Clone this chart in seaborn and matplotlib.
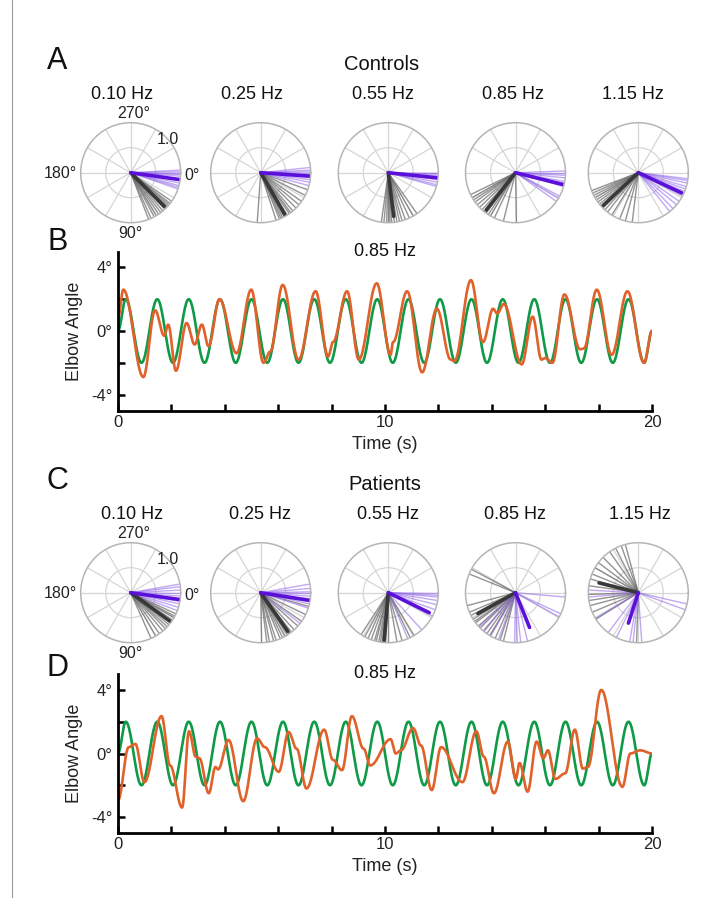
import numpy as np
import pandas as pd
import matplotlib
matplotlib.use("Agg")
import matplotlib.pyplot as plt
import seaborn as sns
from matplotlib.lines import Line2D

sns.set_theme(style="white")
plt.rcParams['font.family'] = ['Liberation Sans', 'DejaVu Sans']

# ------------------------------------------------------------------ data
freq_labels = ["0.10 Hz", "0.25 Hz", "0.55 Hz", "0.85 Hz", "1.15 Hz"]

# Controls - phase angle (deg, clockwise from 0 deg at right) of each line
ctrl_gray_deg = [
    [35, 38, 40, 42, 44, 47, 50, 53, 56, 59, 62, 66, 69],
    [20, 27, 35, 40, 45, 50, 53, 55, 58, 60, 62, 64, 66, 68, 72, 94],
    [55, 60, 65, 70, 74, 77, 80, 83, 86, 88, 90, 92, 95, 98],
    [89, 104, 115, 120, 123, 126, 129, 132, 136, 140, 144, 147, 150, 154],
    [97, 105, 112, 122, 128, 132, 135, 138, 141, 144, 147, 150, 153, 156, 159],
]
ctrl_purple_deg = [
    [-3, -1, 0, 2, 4, 9, 12, 15, 17, 19],
    [-6, -3, -1, 1, 3, 5, 8, 11, 15],
    [0, 1, 3, 5, 8, 11, 14, 16],
    [-2, 0, 3, 6, 10, 12, 16, 28, 31, 35],
    [7, 9, 12, 16, 19, 22, 28, 35, 40, 46, 51],
]
ctrl_gray_len = [0.99, 0.99, 0.99, 0.99, 0.99]
ctrl_purple_len = [0.99, 0.99, 0.99, 0.99, 0.99]
ctrl_gray_mean_deg = [45, 60, 83, 128, 137]
ctrl_gray_mean_r = [0.95, 0.96, 0.88, 0.95, 0.97]
ctrl_purple_mean_deg = [8, 4, 6, 14, 25]
ctrl_purple_mean_r = [0.98, 1.0, 1.0, 0.99, 0.96]

# Patients
pat_gray_deg = [
    [25, 28, 30, 33, 35, 37, 40, 43, 46, 50, 55, 60, 66],
    [16, 26, 35, 42, 48, 52, 55, 58, 61, 64, 67, 72, 75, 80, 83, 89],
    [59, 64, 74, 80, 90, 93, 95, 97, 99, 101, 104, 106, 110, 114, 118, 123],
    [104, 108, 114, 121, 125, 130, 135, 138, 143, 145, 148, 153, 157, 165, 202, 208],
    [92, 148, 157, 165, 171, 178, 188, 196, 202, 210, 217, 225, 235, 243, 250, 255],
]
pat_purple_deg = [
    [-10, -7, -3, 1, 4, 7, 10, 13, 17, 21],
    [-10, -5, -1, 1, 4, 7, 13, 18, 38],
    [1, 3, 5, 9, 14, 20, 28, 48, 67],
    [5, 25, 29, 76, 84, 88, 91, 110, 120, 129, 137],
    [13, 20, 86, 96, 100, 116, 127, 149, 175, 183],
]
pat_gray_len = [0.99, 0.99, 0.99, 0.99, 0.99]
pat_purple_len = [0.99, 0.99, 0.99, 0.99, 0.99]
pat_gray_mean_deg = [36, 55, 95, 151, 194]
pat_gray_mean_r = [0.97, 0.95, 0.96, 0.86, 0.81]
pat_purple_mean_deg = [8, 9, 26, 68, 108]
pat_purple_mean_r = [0.99, 1.0, 0.91, 0.75, 0.64]

# Target (green) elbow-angle key points: start, successive peaks/troughs, end
target_t = [0.0, 0.29, 0.88, 1.47, 2.06, 2.65, 3.24, 3.82, 4.41, 5.00, 5.59,
            6.18, 6.76, 7.35, 7.94, 8.53, 9.12, 9.71, 10.29, 10.88, 11.47,
            12.06, 12.65, 13.24, 13.82, 14.41, 15.00, 15.59, 16.18, 16.76,
            17.35, 17.94, 18.53, 19.12, 19.71, 20.0]
target_v = [0.0, 2.0, -2.0, 2.0, -2.0, 2.0, -2.0, 2.0, -2.0, 2.0, -2.0,
            2.0, -2.0, 2.0, -2.0, 2.0, -2.0, 2.0, -2.0, 2.0, -2.0,
            2.0, -2.0, 2.0, -2.0, 2.0, -2.0, 2.0, -2.0, 2.0,
            -2.0, 2.0, -2.0, 2.0, -2.0, 0.0]

# Control subject response (orange) key points
ctrl_resp_t = [0.0, 0.20, 0.95, 1.39, 1.73, 1.88, 2.17, 2.57, 2.87, 3.14,
               3.39, 3.80, 4.44, 4.99, 5.45, 5.70, 6.17, 6.76, 7.40, 7.87,
               8.05, 8.58, 9.02, 9.69, 10.21, 10.30, 10.83, 11.39, 11.94, 12.46,
               12.60, 13.22, 13.67, 14.05, 14.20, 14.45, 15.12, 15.53, 15.86, 16.00,
               16.27, 16.72, 17.31, 17.45, 17.93, 18.49, 19.08, 19.70, 20.0]
ctrl_resp_v = [0.8, 2.6, -2.9, 1.3, -0.3, 0.4, -2.5, 0.5, -0.85, 0.4,
               -0.95, 2.0, -1.4, 2.6, -2.0, -1.3, 2.9, -1.8, 2.5, -1.6,
               -0.7, 2.5, -1.8, 3.0, -1.5, -0.7, 2.5, -2.6, 1.4, -1.8,
               -1.9, 3.2, -0.7, 1.4, 1.1, 1.7, -2.1, 0.9, -1.8, -1.7,
               -2.0, 2.3, -1.15, -1.1, 2.6, -1.5, 2.5, -2.0, 0.0]

# Patient response (orange) key points
pat_resp_t = [0.0, 0.40, 0.65, 0.99, 1.63, 1.95, 2.40, 2.66, 2.91, 3.05,
              3.40, 3.65, 3.75, 4.14, 4.69, 5.21, 5.50, 6.02, 6.39, 6.69,
              7.06, 7.72, 8.05, 8.39, 8.76, 9.20, 9.45, 10.21, 10.40, 10.60,
              11.05, 11.35, 11.75, 12.10, 12.90, 13.42, 13.70, 14.08, 14.60, 14.90,
              15.04, 15.34, 15.68, 15.93, 16.10, 16.38, 16.75, 17.11, 17.41, 17.60,
              18.10, 18.89, 19.19, 19.56, 20.0]
pat_resp_v = [-2.95, 0.4, 0.6, -1.8, 2.35, -0.75, -3.4, 1.4, -0.2, -0.3,
              -2.5, -0.85, -1.0, 0.85, -3.0, 0.95, 0.4, -1.15, 1.35, 0.3,
              -2.2, 1.5, -0.4, -1.05, 2.35, 0.3, -0.75, 0.9, 0.0, 0.2,
              1.6, 0.5, -2.3, 0.4, -1.8, 1.4, -0.2, -2.5, 0.75, -1.6,
              -0.6, -2.4, 0.75, -0.3, 0.2, -1.6, -1.25, 1.5, -0.95, -0.85,
              4.0, -2.1, 0.0, 0.2, 0.0]

y_ticks = [-4, -2, 0, 2, 4]
y_ticklabels = ["-4°", "", "0°", "", "4°"]
x_ticks = [0, 2, 4, 6, 8, 10, 12, 14, 16, 18, 20]
x_ticklabels = ["0", "", "", "", "", "10", "", "", "", "", "20"]

# ------------------------------------------------------------------ style
W, H = 708, 898
GREEN = "#0f9a48"
ORANGE = "#e0612a"
PURPLE = "#5a10d8"
PURPLE_LIGHT = "#8f62e8"
GRAY = "#666666"
DARK = "#383838"
GRID = "#d6d6d6"
RING = "#b5b5b5"

fig = plt.figure(figsize=(W / 100, H / 100), dpi=100)
fig.patch.set_facecolor("white")


def fx(x):
    return x / W


def fy(y):
    return 1 - y / H


def smooth_path(ts, vs, n=24):
    """Draw a smooth path through key points (half-cosine between points)."""
    t_out, v_out = [], []
    for i in range(len(ts) - 1):
        s = np.linspace(0, 1, n, endpoint=False)
        w = (1 - np.cos(np.pi * s)) / 2
        t_out.append(ts[i] + (ts[i + 1] - ts[i]) * s)
        v_out.append(vs[i] + (vs[i + 1] - vs[i]) * w)
    t_out.append([ts[-1]])
    v_out.append([vs[-1]])
    return np.concatenate(t_out), np.concatenate(v_out)


fig.add_artist(Line2D([fx(12), fx(12)], [0, 1], color="#9a9a9a", lw=0.8))


def spokes(ax, degs, lengths, color, lw, alpha):
    rows = []
    for i, d in enumerate(degs):
        L = lengths[i] if np.ndim(lengths) else lengths
        rows.append({"theta": np.deg2rad(d), "r": 0.0, "u": i})
        rows.append({"theta": np.deg2rad(d), "r": L, "u": i})
    df = pd.DataFrame(rows)
    sns.lineplot(data=df, x="theta", y="r", units="u", estimator=None,
                 sort=False, color=color, lw=lw, alpha=alpha, ax=ax)


def polar_panel(cx, cy, gdeg, glen, pdeg, plen, gmd, gmr, pmd, pmr, R=50):
    ax = fig.add_axes([fx(cx - R), fy(cy + R), 2 * R / W, 2 * R / H],
                      projection="polar")
    ax.set_theta_zero_location("E")
    ax.set_theta_direction(-1)
    ax.set_facecolor("white")
    spokes(ax, gdeg, glen, GRAY, 1.0, 0.7)
    spokes(ax, pdeg, plen, PURPLE_LIGHT, 1.0, 0.55)
    spokes(ax, [gmd], [gmr], DARK, 2.6, 1.0)
    spokes(ax, [pmd], [pmr], PURPLE, 2.6, 1.0)
    ax.set_ylim(0, 1)
    ax.set_thetagrids(np.arange(0, 360, 30), labels=[""] * 12)
    ax.set_rgrids([0.5], labels=[""])
    ax.grid(True, color=GRID, lw=0.9)
    ax.spines["polar"].set_color(RING)
    ax.spines["polar"].set_linewidth(1.1)
    ax.set_xlabel("")
    ax.set_ylabel("")
    ax.tick_params(length=0)
    return ax


centers_x = [130.7, 260.7, 388.3, 515.5, 638.3]
rows = [
    dict(cy=172.7, title_y=94.5, title_x=[121.7, 251.7, 382.8, 513.3, 633.3],
         g=ctrl_gray_deg, gl=ctrl_gray_len, p=ctrl_purple_deg, pl=ctrl_purple_len,
         gmd=ctrl_gray_mean_deg, gmr=ctrl_gray_mean_r,
         pmd=ctrl_purple_mean_deg, pmr=ctrl_purple_mean_r),
    dict(cy=592.7, title_y=514.5, title_x=[132.5, 260.0, 387.8, 515.0, 640.0],
         g=pat_gray_deg, gl=pat_gray_len, p=pat_purple_deg, pl=pat_purple_len,
         gmd=pat_gray_mean_deg, gmr=pat_gray_mean_r,
         pmd=pat_purple_mean_deg, pmr=pat_purple_mean_r),
]

for row in rows:
    cy = row["cy"]
    for k in range(5):
        polar_panel(centers_x[k], cy, row["g"][k], row["gl"][k], row["p"][k],
                    row["pl"][k], row["gmd"][k], row["gmr"][k],
                    row["pmd"][k], row["pmr"][k])
        fig.text(fx(row["title_x"][k]), fy(row["title_y"]), freq_labels[k],
                 ha="center", va="center", fontsize=13, color="#111111")
    dy = cy - 172.7
    fig.text(fx(133.3), fy(113.3 + dy), "270°", ha="center", va="center", fontsize=11.5, color="#222")
    fig.text(fx(60), fy(174 + dy), "180°", ha="center", va="center", fontsize=11.5, color="#222")
    fig.text(fx(192.5), fy(175 + dy), "0°", ha="center", va="center", fontsize=11.5, color="#222")
    fig.text(fx(167.5), fy(139 + dy), "1.0", ha="center", va="center", fontsize=11.5, color="#222")
    fig.text(fx(130), fy(234 + dy), "90°", ha="center", va="center", fontsize=11.5, color="#222")


def trace_panel(top, bottom, resp_t, resp_v):
    left, right = 118, 652
    ax = fig.add_axes([fx(left), fy(bottom), (right - left) / W, (bottom - top) / H])
    gt, gv = smooth_path(target_t, target_v)
    rt, rv = smooth_path(resp_t, resp_v)
    sns.lineplot(x=gt, y=gv, color=GREEN, lw=1.9, ax=ax, sort=False)
    sns.lineplot(x=rt, y=rv, color=ORANGE, lw=1.9, ax=ax, sort=False)
    ax.set_xlim(0, 20)
    ax.set_ylim(-5, 5)
    sns.despine(ax=ax)
    for s in ("left", "bottom"):
        ax.spines[s].set_linewidth(2.0)
        ax.spines[s].set_color("black")
    ax.set_yticks(y_ticks)
    ax.set_yticklabels(y_ticklabels)
    ax.set_xticks(x_ticks)
    ax.set_xticklabels(x_ticklabels)
    ax.tick_params(axis="both", which="major", bottom=True, left=True,
                   direction="in", length=5, width=1.8, color="black",
                   labelsize=12, labelcolor="#222")
    ax.tick_params(axis="x", pad=3)
    ax.tick_params(axis="y", pad=4)
    ax.set_ylabel("Elbow Angle", fontsize=13, color="#222")
    ax.yaxis.set_label_coords(-0.066, 0.5)
    ax.set_xlabel("Time (s)", fontsize=13, color="#222")
    ax.xaxis.set_label_coords(0.5, -0.16)
    ax.text(0.5, 1.0, "0.85 Hz", transform=ax.transAxes, ha="center",
            va="center", fontsize=13, color="#111")
    ax.set_facecolor("none")
    return ax


trace_panel(251.5, 410.5, ctrl_resp_t, ctrl_resp_v)
trace_panel(674, 833, pat_resp_t, pat_resp_v)

for letter, y in [("A", 61), ("B", 242), ("C", 481), ("D", 668)]:
    fig.text(fx(57.5), fy(y), letter, ha="center", va="center", fontsize=22, color="#111")
fig.text(fx(381.7), fy(64), "Controls", ha="center", va="center", fontsize=14.5, color="#111")
fig.text(fx(384.7), fy(485), "Patients", ha="center", va="center", fontsize=14.5, color="#111")

fig.savefig("out.png", dpi=100)
